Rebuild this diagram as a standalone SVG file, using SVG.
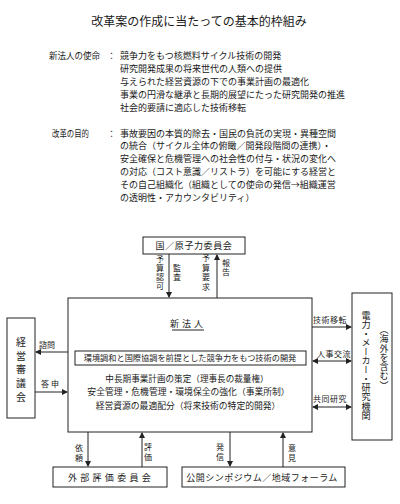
<svg xmlns="http://www.w3.org/2000/svg" width="400" height="504" viewBox="0 0 400 504">
<style>
text{font-family:"Noto Sans CJK JP","Noto Sans CJK SC",sans-serif;fill:#1a1a1a;}
.t{font-size:9px;}
.l{font-size:8px;}
.v{writing-mode:vertical-rl;}
.box{fill:none;stroke:#222;stroke-width:1;}
.ln{stroke:#222;stroke-width:1;fill:none;}
.c{text-anchor:middle;}
</style>
<defs>
<marker id="ah" markerUnits="userSpaceOnUse" markerWidth="6" markerHeight="6" refX="5" refY="3" orient="auto-start-reverse">
<path d="M0,0 L6,3 L0,6 Z" fill="#222"/>
</marker>
</defs>
<rect width="400" height="504" fill="#fff"/>

<g id="header">
<text x="199" y="26" font-size="12" class="c">改革案の作成に当たっての基本的枠組み</text>
<text x="49" y="58.5" class="t" textLength="51" lengthAdjust="spacingAndGlyphs">新法人の使命</text>
<text x="107" y="58.5" class="t">：</text>
<text x="120" y="58.5" class="t">競争力をもつ核燃料サイクル技術の開発</text>
<text x="120" y="71.5" class="t">研究開発成果の将来世代の人類への提供</text>
<text x="120" y="84.5" class="t">与えられた経営資源の下での事業計画の最適化</text>
<text x="120" y="97.5" class="t">事業の円滑な継承と長期的展望にたった研究開発の推進</text>
<text x="120" y="110.5" class="t">社会的要請に適応した技術移転</text>
<text x="52" y="136.5" class="t" textLength="37" lengthAdjust="spacingAndGlyphs">改革の目的</text>
<text x="107" y="136.5" class="t">：</text>
<text x="120" y="136.5" class="t">事故要因の本質的除去・国民の負託の実現・異種空間</text>
<text x="120" y="148.5" class="t">の統合（サイクル全体の俯瞰／開発段階間の連携）・</text>
<text x="120" y="161.5" class="t">安全確保と危機管理への社会性の付与・状況の変化へ</text>
<text x="120" y="174.5" class="t">の対応（コスト意識／リストラ）を可能にする経営と</text>
<text x="120" y="187.5" class="t">その自己組織化（組織としての使命の発信→組織運営</text>
<text x="120" y="200.5" class="t">の透明性・アカウンタビリティ）</text>
</g>

<g id="node-kuni">
<rect class="box" x="143" y="237" width="102" height="17"/>
<text x="194" y="248.5" class="t c" letter-spacing="0.6">国／原子力委員会</text>
</g>

<g id="node-shinhojin">
<rect class="box" x="68" y="298" width="244" height="134"/>
<text x="188" y="326.5" class="t c" letter-spacing="3">新法人</text>
<line class="ln" x1="172" y1="330" x2="204" y2="330"/>
<rect class="box" x="75" y="351" width="231" height="14"/>
<text x="190" y="361" font-size="8.2" class="c">環境調和と国際協調を前提とした競争力をもつ技術の開発</text>
<text x="187" y="381.5" font-size="8.6" class="c">中長期事業計画の策定（理事長の裁量権）</text>
<text x="188.5" y="395" font-size="8.8" class="c">安全管理・危機管理・環境保全の強化（事業所制）</text>
<text x="188" y="409" font-size="8.8" class="c">経営資源の最適配分（将来技術の特定的開発）</text>
</g>

<g id="node-keiei">
<rect class="box" x="7" y="318" width="28" height="100"/>
<text x="21" y="337" font-size="10" class="v" letter-spacing="3.7">経営審議会</text>
</g>

<g id="node-denryoku">
<rect class="box" x="352" y="293" width="40" height="147"/>
<text x="366" y="310.5" font-size="9.1" class="v">電力・メーカー・研究機関</text>
<text x="384" y="325" font-size="9" class="v" letter-spacing="0.3">（海外を含む）</text>
</g>

<g id="node-gaibu">
<rect class="box" x="53" y="467" width="114" height="20"/>
<text x="111" y="480.5" class="t c" letter-spacing="3.3">外部評価委員会</text>
</g>

<g id="node-symposium">
<rect class="box" x="182" y="467" width="163" height="20"/>
<text x="262" y="480.5" class="t c" letter-spacing="0.5">公開シンポジウム／地域フォーラム</text>
</g>

<g id="connectors">
<line class="ln" x1="169" y1="254" x2="169" y2="297" marker-end="url(#ah)"/>
<line class="ln" x1="217" y1="298" x2="217" y2="255" marker-end="url(#ah)"/>
<line class="ln" x1="68" y1="352" x2="36" y2="352" marker-end="url(#ah)"/>
<line class="ln" x1="35" y1="392" x2="67" y2="392" marker-end="url(#ah)"/>
<line class="ln" x1="312" y1="327" x2="351" y2="327" marker-end="url(#ah)"/>
<line class="ln" x1="313" y1="361" x2="351" y2="361" marker-start="url(#ah)" marker-end="url(#ah)"/>
<line class="ln" x1="313" y1="407" x2="351" y2="407" marker-start="url(#ah)" marker-end="url(#ah)"/>
<line class="ln" x1="88" y1="432" x2="88" y2="466" marker-end="url(#ah)"/>
<line class="ln" x1="142" y1="467" x2="142" y2="433" marker-end="url(#ah)"/>
<line class="ln" x1="230" y1="432" x2="230" y2="466" marker-end="url(#ah)"/>
<line class="ln" x1="283" y1="467" x2="283" y2="433" marker-end="url(#ah)"/>
<text x="160" y="255" class="l v" letter-spacing="1">予算認可</text>
<text x="177" y="264" class="l v" letter-spacing="1">監査</text>
<text x="206" y="254" class="l v" letter-spacing="1.5">予算要求</text>
<text x="226" y="259" class="l v" letter-spacing="1">報告</text>
<text x="39" y="348" class="l">諮問</text>
<text x="41" y="387" class="l" letter-spacing="2">答申</text>
<text x="313" y="323" class="l" letter-spacing="0.5">技術移転</text>
<text x="317" y="357" class="l" letter-spacing="0.5">人事交流</text>
<text x="313" y="402" class="l" letter-spacing="0.5">共同研究</text>
<text x="79" y="444" class="l v" letter-spacing="2">依頼</text>
<text x="148" y="443" class="l v" letter-spacing="2">評価</text>
<text x="220" y="443" class="l v" letter-spacing="2">発信</text>
<text x="292" y="444" class="l v" letter-spacing="2">意見</text>
</g>
</svg>
